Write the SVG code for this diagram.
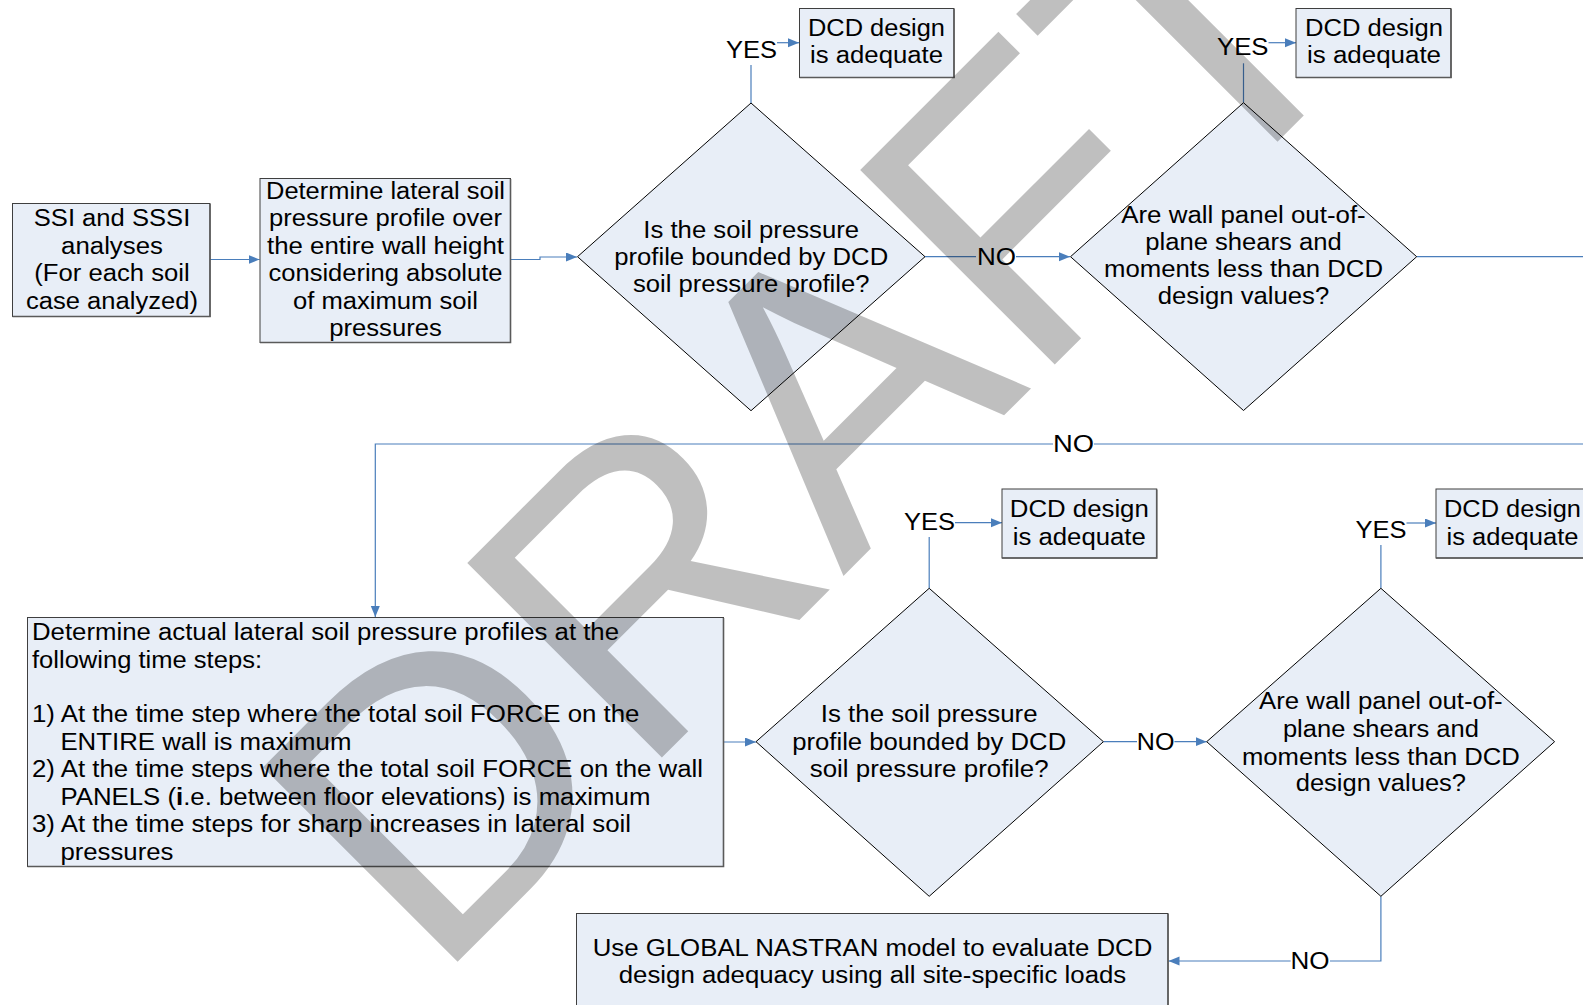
<svg xmlns="http://www.w3.org/2000/svg" width="1583" height="1005" viewBox="0 0 1583 1005">
<defs>
<style>
.t{font-family:"Liberation Sans",Arial,sans-serif;font-size:23px;fill:#000}
.c{text-anchor:middle}
.box{fill:#e8eef7;stroke:#3f3f3f;stroke-width:1}
.sh{fill:none;stroke:#5a5a5a;stroke-width:1.6}
.dia{fill:#e8eef7;stroke:#000;stroke-width:1}
.ln{fill:none;stroke:#4a7ebb;stroke-width:1.2}
.arr{marker-end:url(#ah)}
.wm{font-family:"Liberation Sans",Arial,sans-serif;font-size:400px;fill:#000;fill-opacity:0.25}
</style>
<marker id="ah" markerUnits="userSpaceOnUse" markerWidth="12" markerHeight="10" refX="11" refY="4.5" orient="auto">
<path d="M0,0 L11,4.5 L0,9 Z" fill="#4a7ebb"/>
</marker>
</defs>
<rect width="1583" height="1005" fill="#fff"/>

<g id="connectors">
<path class="ln arr" d="M210,259.5 H259.5"/>
<path class="ln arr" d="M510.5,259.5 H540 V257 H577"/>
<path class="ln" d="M751,103 V65"/>
<path class="ln arr" d="M777,42.7 H799"/>
<path class="ln" d="M925,256.7 H976"/>
<path class="ln arr" d="M1016,256.7 H1070"/>
<path class="ln" d="M1243.5,102.7 V63.3"/>
<path class="ln arr" d="M1268.5,42.7 H1296"/>
<path class="ln" d="M1416.7,256.7 H1583"/>
<path class="ln" d="M1583,444 H1094"/>
<path class="ln arr" d="M1053,444 H375.3 V617"/>
<path class="ln arr" d="M723.5,742 H756"/>
<path class="ln" d="M929.2,588.3 V537"/>
<path class="ln arr" d="M955,522.7 H1002"/>
<path class="ln" d="M1103.4,741.7 H1137"/>
<path class="ln arr" d="M1174.4,741.7 H1206.7"/>
<path class="ln" d="M1380.9,588.3 V545"/>
<path class="ln arr" d="M1406.5,523 H1436"/>
<path class="ln" d="M1380.9,896.3 V961 H1330"/>
<path class="ln arr" d="M1290.6,961 H1168.5"/>
</g>

<g id="labels">
<text class="t c" x="751.5" y="58" textLength="51" lengthAdjust="spacingAndGlyphs">YES</text>
<text class="t c" x="996.5" y="264.5" textLength="39" lengthAdjust="spacingAndGlyphs">NO</text>
<text class="t c" x="1242.8" y="55" textLength="51.5" lengthAdjust="spacingAndGlyphs">YES</text>
<text class="t c" x="1073.4" y="452" textLength="41" lengthAdjust="spacingAndGlyphs">NO</text>
<text class="t c" x="929.5" y="530" textLength="51" lengthAdjust="spacingAndGlyphs">YES</text>
<text class="t c" x="1155.6" y="749.7" textLength="37.6" lengthAdjust="spacingAndGlyphs">NO</text>
<text class="t c" x="1381" y="538" textLength="51" lengthAdjust="spacingAndGlyphs">YES</text>
<text class="t c" x="1310" y="969" textLength="39" lengthAdjust="spacingAndGlyphs">NO</text>
</g>

<g id="n-ssi">
<rect class="box" x="12.5" y="203.5" width="197.5" height="113"/>
<polyline class="sh" points="210,204 210,316.5 12.5,316.5"/>
<text class="t c" x="112" y="226.3" textLength="156.5" lengthAdjust="spacingAndGlyphs">SSI and SSSI</text>
<text class="t c" x="112" y="254" textLength="101.8" lengthAdjust="spacingAndGlyphs">analyses</text>
<text class="t c" x="112" y="281.3" textLength="155.4" lengthAdjust="spacingAndGlyphs">(For each soil</text>
<text class="t c" x="112" y="308.7" textLength="172" lengthAdjust="spacingAndGlyphs">case analyzed)</text>
</g>

<g id="n-lateral">
<rect class="box" x="260" y="178.5" width="250.5" height="164"/>
<polyline class="sh" points="510.5,179 510.5,342.5 260,342.5"/>
<text class="t c" x="385.5" y="198.7" textLength="239" lengthAdjust="spacingAndGlyphs">Determine lateral soil</text>
<text class="t c" x="385.5" y="226.3" textLength="233" lengthAdjust="spacingAndGlyphs">pressure profile over</text>
<text class="t c" x="385.5" y="254" textLength="237" lengthAdjust="spacingAndGlyphs">the entire wall height</text>
<text class="t c" x="385.5" y="281.3" textLength="234" lengthAdjust="spacingAndGlyphs">considering absolute</text>
<text class="t c" x="385.5" y="309" textLength="185" lengthAdjust="spacingAndGlyphs">of maximum soil</text>
<text class="t c" x="385.5" y="336.3" textLength="112.5" lengthAdjust="spacingAndGlyphs">pressures</text>
</g>

<g id="n-dec1">
<polygon class="dia" points="577.5,256.7 751,103 925,256.7 751,410.7"/>
<text class="t c" x="751.2" y="238" textLength="215.7" lengthAdjust="spacingAndGlyphs">Is the soil pressure</text>
<text class="t c" x="751.2" y="264.7" textLength="274" lengthAdjust="spacingAndGlyphs">profile bounded by DCD</text>
<text class="t c" x="751.2" y="292" textLength="236.6" lengthAdjust="spacingAndGlyphs">soil pressure profile?</text>
</g>

<g id="n-ok1">
<rect class="box" x="799.5" y="8.5" width="154.5" height="69"/>
<polyline class="sh" points="954,9 954,77.5 799.5,77.5"/>
<text class="t c" x="876.5" y="36.3" textLength="137" lengthAdjust="spacingAndGlyphs">DCD design</text>
<text class="t c" x="876.5" y="63" textLength="133" lengthAdjust="spacingAndGlyphs">is adequate</text>
</g>

<g id="n-dec2">
<polygon class="dia" points="1070.5,256.7 1243.5,102.7 1416.7,256.7 1243.5,410.5"/>
<text class="t c" x="1243.5" y="223" textLength="244.5" lengthAdjust="spacingAndGlyphs">Are wall panel out-of-</text>
<text class="t c" x="1243.5" y="249.7" textLength="196.4" lengthAdjust="spacingAndGlyphs">plane shears and</text>
<text class="t c" x="1243.5" y="277.3" textLength="279" lengthAdjust="spacingAndGlyphs">moments less than DCD</text>
<text class="t c" x="1243.5" y="304" textLength="171.4" lengthAdjust="spacingAndGlyphs">design values?</text>
</g>

<g id="n-ok2">
<rect class="box" x="1296" y="8.5" width="155" height="69"/>
<polyline class="sh" points="1451,9 1451,77.5 1296,77.5"/>
<text class="t c" x="1374" y="36.3" textLength="138" lengthAdjust="spacingAndGlyphs">DCD design</text>
<text class="t c" x="1374" y="63" textLength="134" lengthAdjust="spacingAndGlyphs">is adequate</text>
</g>

<g id="n-actual">
<rect class="box" x="27.5" y="617.5" width="696" height="249"/>
<polyline class="sh" points="723.5,618 723.5,866.5 27.5,866.5"/>
<text class="t" x="32" y="640.3" textLength="587" lengthAdjust="spacingAndGlyphs">Determine actual lateral soil pressure profiles at the</text>
<text class="t" x="32" y="668" textLength="230" lengthAdjust="spacingAndGlyphs">following time steps:</text>
<text class="t" x="32" y="722.3" textLength="607.5" lengthAdjust="spacingAndGlyphs">1) At the time step where the total soil FORCE on the</text>
<text class="t" x="60.4" y="749.7" textLength="291" lengthAdjust="spacingAndGlyphs">ENTIRE wall is maximum</text>
<text class="t" x="32" y="777.3" textLength="671" lengthAdjust="spacingAndGlyphs">2) At the time steps where the total soil FORCE on the wall</text>
<text class="t" x="60.4" y="804.7" textLength="590" lengthAdjust="spacingAndGlyphs">PANELS (<tspan font-weight="bold">i</tspan>.e. between floor elevations) is maximum</text>
<text class="t" x="32" y="832" textLength="599" lengthAdjust="spacingAndGlyphs">3) At the time steps for sharp increases in lateral soil</text>
<text class="t" x="60.4" y="859.7" textLength="113" lengthAdjust="spacingAndGlyphs">pressures</text>
</g>

<g id="n-dec3">
<polygon class="dia" points="756,741.7 929.2,588.3 1103.4,741.7 929.2,896.3"/>
<text class="t c" x="929.2" y="722.3" textLength="216.7" lengthAdjust="spacingAndGlyphs">Is the soil pressure</text>
<text class="t c" x="929.2" y="749.7" textLength="274" lengthAdjust="spacingAndGlyphs">profile bounded by DCD</text>
<text class="t c" x="929.2" y="777" textLength="239" lengthAdjust="spacingAndGlyphs">soil pressure profile?</text>
</g>

<g id="n-ok3">
<rect class="box" x="1002" y="489" width="154.7" height="69"/>
<polyline class="sh" points="1156.7,489.5 1156.7,558 1002,558"/>
<text class="t c" x="1079.3" y="517" textLength="139" lengthAdjust="spacingAndGlyphs">DCD design</text>
<text class="t c" x="1079.3" y="544.5" textLength="133" lengthAdjust="spacingAndGlyphs">is adequate</text>
</g>

<g id="n-dec4">
<polygon class="dia" points="1206.7,741.7 1380.9,588.3 1554.6,741.7 1380.9,896.3"/>
<text class="t c" x="1380.9" y="709" textLength="243.6" lengthAdjust="spacingAndGlyphs">Are wall panel out-of-</text>
<text class="t c" x="1380.9" y="737" textLength="196" lengthAdjust="spacingAndGlyphs">plane shears and</text>
<text class="t c" x="1380.9" y="764.7" textLength="278" lengthAdjust="spacingAndGlyphs">moments less than DCD</text>
<text class="t c" x="1380.9" y="791.3" textLength="170.4" lengthAdjust="spacingAndGlyphs">design values?</text>
</g>

<g id="n-ok4">
<rect class="box" x="1436" y="489" width="155" height="69"/>
<polyline class="sh" points="1591,489.5 1591,558 1436,558"/>
<text class="t c" x="1512.5" y="517" textLength="137" lengthAdjust="spacingAndGlyphs">DCD design</text>
<text class="t c" x="1512.5" y="544.5" textLength="132" lengthAdjust="spacingAndGlyphs">is adequate</text>
</g>

<g id="n-nastran">
<rect class="box" x="576.5" y="913.5" width="591.5" height="100"/>
<polyline class="sh" points="1168,914 1168,1013"/>
<text class="t c" x="872.5" y="955.7" textLength="559.7" lengthAdjust="spacingAndGlyphs">Use GLOBAL NASTRAN model to evaluate DCD</text>
<text class="t c" x="872.5" y="983" textLength="507.5" lengthAdjust="spacingAndGlyphs">design adequacy using all site-specific loads</text>
</g>

<g id="watermark">
<text class="wm" transform="translate(434.4,985) rotate(-45)">DRAFT</text>
</g>
</svg>
